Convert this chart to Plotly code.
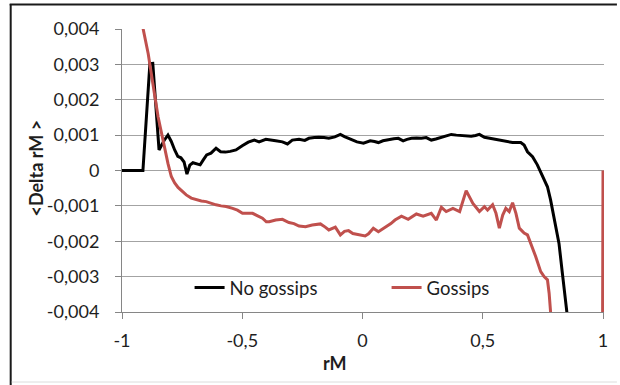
import plotly.graph_objects as go

# Mean change of rM as a function of rM, with and without gossips
nog_x = [-1.0, -0.95, -0.913, -0.884, -0.872, -0.846, -0.825, -0.809, -0.795, -0.781,
         -0.768, -0.755, -0.742, -0.730, -0.718, -0.705, -0.690, -0.675, -0.662, -0.648,
         -0.630, -0.609, -0.590, -0.570, -0.550, -0.526, -0.500, -0.475, -0.450, -0.430,
         -0.402, -0.380, -0.361, -0.333, -0.312, -0.292, -0.264, -0.240, -0.223, -0.200,
         -0.182, -0.160, -0.140, -0.115, -0.092, -0.075, -0.058, -0.040, -0.023, 0.004,
         0.032, 0.050, 0.066, 0.085, 0.107, 0.130, 0.149, 0.169, 0.185, 0.204,
         0.225, 0.245, 0.265, 0.286, 0.305, 0.328, 0.350, 0.369, 0.390, 0.410,
         0.430, 0.452, 0.470, 0.486, 0.507, 0.521, 0.540, 0.562, 0.590, 0.624,
         0.658, 0.672, 0.686, 0.707, 0.727, 0.748, 0.769, 0.782, 0.796, 0.817,
         0.831, 0.851, 0.870]
nog_y = [0, 0, 0, 0.00302, 0.00303, 0.00058, 0.00085, 0.00100, 0.00082, 0.00058,
         0.00040, 0.00036, 0.00024, -0.00010, 0.00015, 0.00022, 0.00020, 0.00016, 0.00030, 0.00044,
         0.00049, 0.00063, 0.00053, 0.00052, 0.00054, 0.00058, 0.00070, 0.00080, 0.00086, 0.00081,
         0.00088, 0.00085, 0.00084, 0.00081, 0.00075, 0.00086, 0.00088, 0.00085, 0.00091, 0.00093,
         0.00094, 0.00093, 0.00091, 0.00095, 0.00102, 0.00096, 0.00091, 0.00085, 0.00081, 0.00077,
         0.00084, 0.00082, 0.00079, 0.00084, 0.00088, 0.00090, 0.00091, 0.00084, 0.00088, 0.00091,
         0.00092, 0.00091, 0.00093, 0.00086, 0.00089, 0.00094, 0.00098, 0.00102, 0.00100, 0.00099,
         0.00098, 0.00097, 0.00099, 0.00102, 0.00094, 0.00092, 0.00090, 0.00088, 0.00084, 0.00079,
         0.00079, 0.00072, 0.00053, 0.00039, 0.00016, -0.00013, -0.00046, -0.00083, -0.00130, -0.00206,
         -0.00290, -0.00400, -0.00520]

gos_x = [-0.925, -0.912, -0.891, -0.877, -0.863, -0.850, -0.836, -0.822, -0.809, -0.795,
         -0.781, -0.767, -0.750, -0.733, -0.712, -0.691, -0.670, -0.650, -0.630, -0.609,
         -0.588, -0.567, -0.540, -0.520, -0.499, -0.478, -0.457, -0.436, -0.416, -0.400,
         -0.388, -0.361, -0.333, -0.306, -0.285, -0.264, -0.237, -0.209, -0.175, -0.155,
         -0.140, -0.113, -0.092, -0.075, -0.058, -0.040, -0.017, 0.011, 0.025, 0.045,
         0.066, 0.085, 0.100, 0.118, 0.135, 0.162, 0.190, 0.207, 0.224, 0.252,
         0.270, 0.286, 0.307, 0.328, 0.348, 0.376, 0.404, 0.431, 0.459, 0.486,
         0.507, 0.520, 0.541, 0.555, 0.569, 0.583, 0.596, 0.610, 0.624, 0.638,
         0.652, 0.672, 0.686, 0.700, 0.720, 0.741, 0.755, 0.769, 0.776, 0.782,
         0.800, 0.850, 0.900, 0.950, 0.990, 1.000]
gos_y = [0.0047, 0.0040, 0.0033, 0.00275, 0.00208, 0.00152, 0.00105, 0.00058, 0.00020, -0.00017,
         -0.00035, -0.00048, -0.00060, -0.00069, -0.00078, -0.00083, -0.00086, -0.00088, -0.00093, -0.00097,
         -0.00100, -0.00102, -0.00107, -0.00112, -0.00121, -0.00120, -0.00121, -0.00128, -0.00135, -0.00145,
         -0.00145, -0.00140, -0.00138, -0.00147, -0.00150, -0.00157, -0.00159, -0.00154, -0.00151, -0.00160,
         -0.00168, -0.00160, -0.00182, -0.00172, -0.00170, -0.00178, -0.00182, -0.00185, -0.00179, -0.00163,
         -0.00173, -0.00165, -0.00159, -0.00150, -0.00140, -0.00129, -0.00138, -0.00130, -0.00123, -0.00129,
         -0.00125, -0.00121, -0.00140, -0.00104, -0.00116, -0.00107, -0.00116, -0.00057, -0.00093, -0.00116,
         -0.00102, -0.00112, -0.00097, -0.00121, -0.00163, -0.00126, -0.00107, -0.00116, -0.00091, -0.00121,
         -0.00163, -0.00177, -0.00182, -0.00206, -0.00243, -0.00286, -0.00300, -0.00309, -0.00347, -0.00400,
         -0.00550, -0.00900, -0.01300, -0.01800, -0.02500, 0.0]

x_tickvals = [-1, -0.5, 0, 0.5, 1]
x_ticktext = ["-1", "-0,5", "0", "0,5", "1"]
y_tickvals = [-0.004, -0.003, -0.002, -0.001, 0, 0.001, 0.002, 0.003, 0.004]
y_ticktext = ["-0,004", "-0,003", "-0,002", "-0,001", "0", "0,001", "0,002", "0,003", "0,004"]

series_names = ["No gossips", "Gossips"]

W, H = 620, 385
ML, MR, MT, MB = 122, 13, 29, 73
PW, PH = W - ML - MR, H - MT - MB


def px_x(p):
    return (p - ML) / PW


def px_y(p):
    return (H - MB - p) / PH


FONT = "Lato"
TXT = "#1e1e1e"
AXIS = "#868686"
GRID = "#a3a3a3"

fig = go.Figure()
fig.add_trace(go.Scatter(x=nog_x, y=nog_y, mode="lines", name=series_names[0],
                         line=dict(color="#000000", width=3)))
fig.add_trace(go.Scatter(x=gos_x, y=gos_y, mode="lines", name=series_names[1],
                         line=dict(color="#C0504D", width=3)))

fig.update_layout(
    width=W, height=H,
    margin=dict(l=ML, r=MR, t=MT, b=MB),
    paper_bgcolor="white", plot_bgcolor="white",
    font=dict(family=FONT, size=18, color=TXT),
    showlegend=True,
    legend=dict(orientation="h", x=px_x(190), xanchor="left",
                y=px_y(288), yanchor="middle",
                bgcolor="rgba(0,0,0,0)", entrywidth=152, entrywidthmode="pixels",
                font=dict(family=FONT, size=18.5, color=TXT)),
    xaxis=dict(range=[-1, -1 + 2 * PW / 484], tickvals=x_tickvals, ticktext=x_ticktext,
               showgrid=False, zeroline=False, showline=True, linecolor=AXIS, linewidth=1,
               ticks="outside", ticklen=6, tickcolor=AXIS, tickwidth=1,
               ticklabelstandoff=6),
    yaxis=dict(range=[-0.004, 0.004], tickvals=y_tickvals, ticktext=y_ticktext,
               showgrid=True, gridcolor=GRID, gridwidth=1, zeroline=False,
               showline=True, linecolor=AXIS, linewidth=1,
               ticks="outside", ticklen=6, tickcolor=AXIS, tickwidth=1,
               ticklabelstandoff=12),
    annotations=[
        dict(text="<b>&lt;Delta rM &gt;</b>", xref="paper", yref="paper",
             x=px_x(35), y=px_y(168), textangle=-90, showarrow=False,
             xanchor="center", yanchor="middle", font=dict(family=FONT, size=18, color=TXT)),
        dict(text="<b>rM</b>", xref="paper", yref="paper",
             x=px_x(336), y=px_y(363), showarrow=False,
             xanchor="center", yanchor="middle", font=dict(family=FONT, size=18, color=TXT)),
    ],
    shapes=[
        dict(type="line", xref="paper", yref="paper", x0=px_x(10), x1=px_x(10),
             y0=px_y(4), y1=px_y(385), line=dict(color="#1a1a1a", width=2)),
        dict(type="line", xref="paper", yref="paper", x0=px_x(9), x1=px_x(620),
             y0=px_y(4.5), y1=px_y(4.5), line=dict(color="#1a1a1a", width=2)),
        dict(type="line", xref="paper", yref="paper", x0=px_x(11), x1=px_x(620),
             y0=px_y(382), y1=px_y(382), line=dict(color="#dcdcdc", width=1)),
    ],
)

fig.write_html("out.html")
